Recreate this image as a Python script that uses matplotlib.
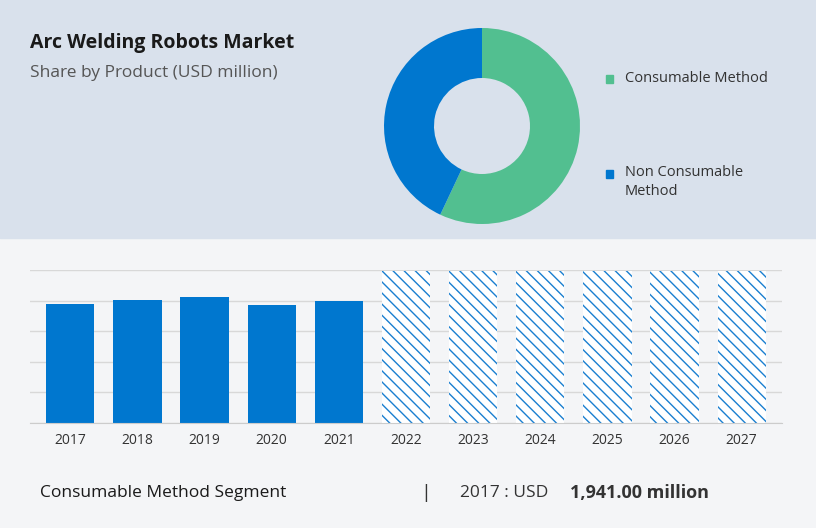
import matplotlib
matplotlib.use("Agg")
import matplotlib.pyplot as plt
from matplotlib.patches import Rectangle

plt.rcParams['font.family'] = 'Open Sans'

years = ['2017','2018','2019','2020','2021','2022','2023','2024','2025','2026','2027']
values = [1941, 2006, 2055, 1925, 1990]
forecast = [2480]*6
shares = [57, 43]
labels = ['Consumable Method', 'Non Consumable\nMethod']
colors = ['#52bf90', '#0077cf']

W, H = 816, 528
fig = plt.figure(figsize=(W/100, H/100), dpi=100)
fig.patch.set_facecolor('#f4f5f7')
fig.add_artist(Rectangle((0, 1-238/H), 1, 238/H, transform=fig.transFigure, color='#d9e1ec', zorder=0))

fig.text(30/W, 1-43/H, 'Arc Welding Robots Market', fontsize=14, fontweight='bold', color='#1a1a1a', va='center')
fig.text(30/W, 1-73/H, 'Share by Product (USD million)', fontsize=12.5, color='#555555', va='center')

# donut
r = 98
ax_d = fig.add_axes([(482-r)/W, 1-(126+r)/H, 2*r/W, 2*r/H])
ax_d.pie(shares, colors=colors, startangle=90, counterclock=False,
         wedgeprops=dict(width=50/98, edgecolor='none'))
ax_d.set_xlim(-1, 1)
ax_d.set_ylim(-1, 1)
ax_d.set_aspect('equal')

for i, y in enumerate([79, 174]):
    fig.add_artist(Rectangle((606/W, 1-(y+3.5)/H), 7/W, 7/H, transform=fig.transFigure, color=colors[i]))
fig.text(625/W, 1-79/H, labels[0], color='#333333', fontsize=10.5, va='center')
fig.text(625/W, 1-165/H, labels[1], color='#333333', fontsize=10.5, va='top', linespacing=1.4)

# bars
ax = fig.add_axes([30/W, 1-423/H, (782-30)/W, (423-270)/H])
ax.set_facecolor('none')
x = list(range(len(years)))
ax.bar(x[:5], values, width=0.72, color='#0077cf', zorder=2)
ax.bar(x[5:], forecast, width=0.72, color='white', edgecolor='#1a7fd0',
       hatch='\\\\\\', linewidth=0, zorder=2)
ax.set_ylim(0, 2500)
ax.set_xlim(-0.6, 10.6)
ax.set_yticks([0, 500, 1000, 1500, 2000, 2500])
ax.yaxis.grid(True, color='#d8d8d8', linewidth=1, zorder=0)
ax.tick_params(left=False, labelleft=False, bottom=False)
ax.set_xticks(x)
ax.set_xticklabels(years, fontsize=10, color='#333333')
for s in ax.spines.values():
    s.set_visible(False)
ax.spines['bottom'].set_visible(True)
ax.spines['bottom'].set_color('#cccccc')

fig.text(40/W, 1-493/H, 'Consumable Method Segment', fontsize=12.5, color='#1a1a1a', va='center')
fig.text(420/W, 1-493/H, '|', fontsize=14, color='#333333', va='center')
fig.text(460/W, 1-493/H, '2017 : USD', fontsize=12.5, color='#333333', va='center')
fig.text(570/W, 1-493/H, '1,941.00 million', fontsize=13, fontweight='bold', color='#333333', va='center')

fig.savefig('out.png', dpi=100, facecolor=fig.get_facecolor())
